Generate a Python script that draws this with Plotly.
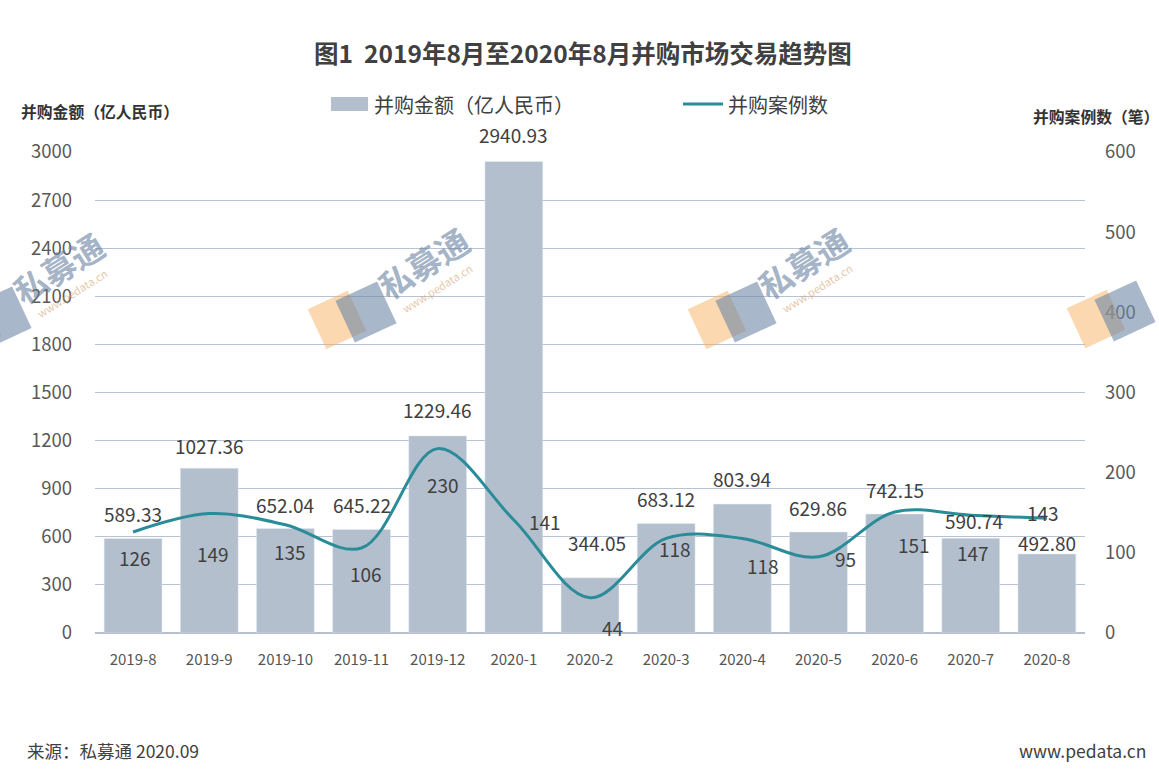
import math
import plotly.graph_objects as go

months = ["2019-8", "2019-9", "2019-10", "2019-11", "2019-12", "2020-1", "2020-2",
          "2020-3", "2020-4", "2020-5", "2020-6", "2020-7", "2020-8"]
amount = [589.33, 1027.36, 652.04, 645.22, 1229.46, 2940.93, 344.05,
          683.12, 803.94, 629.86, 742.15, 590.74, 492.80]
cases = [126, 149, 135, 106, 230, 141, 44, 118, 118, 95, 151, 147, 143]

# label placement (pixel offsets from the mark, as in the reference)
amount_label_dx = [0, 0, 0, 0, 0, 0, 7, 0, 0, 0, 0, 3, 0]
amount_label_dy = [25, 23, 24, 25, 26, 27, 35, 25, 26, 25, 25, 18, 11]
case_label_dx = [2, 4, 5, 4, 5, 31, 22, 9, 21, 27, 19, 2, -4]
case_label_dy = [-26, -40, -27, -25, -36, -2, -30, -10, -27, -2, -33, -37, 6]

FONT = "Noto Sans CJK SC"
BAR_C = "#b3bfcd"
LINE_C = "#2a8c98"
TXT = "#404040"

W, H = 1159, 779
L, R, T, B = 95, 74, 152, 146
pw, ph = W - L - R, H - T - B


def px(xp):
    return (xp - L) / pw


def py(yp):
    return (H - B - yp) / ph


fig = go.Figure()
fig.add_trace(go.Bar(
    x=months, y=amount, name="并购金额（亿人民币）", marker_color=BAR_C,
    yaxis="y", showlegend=False, hoverinfo="x+y",
))
fig.add_trace(go.Scatter(
    x=months, y=cases, name="并购案例数", mode="lines",
    line=dict(color=LINE_C, width=3, shape="spline", smoothing=1.0),
    yaxis="y2", showlegend=False,
))

annotations = []
for m, v, dx, dy in zip(months, amount, amount_label_dx, amount_label_dy):
    annotations.append(dict(x=m, y=v, xref="x", yref="y", text=f"{v:.2f}", showarrow=False,
                            xshift=dx, yshift=dy, xanchor="center", yanchor="middle",
                            font=dict(size=19, color=TXT, family=FONT)))
for m, v, dx, dy in zip(months, cases, case_label_dx, case_label_dy):
    annotations.append(dict(x=m, y=v, xref="x", yref="y2", text=str(v), showarrow=False,
                            xshift=dx, yshift=dy, xanchor="center", yanchor="middle",
                            font=dict(size=19, color=TXT, family=FONT)))

annotations += [
    dict(text="<b>图1  2019年8月至2020年8月并购市场交易趋势图</b>", x=px(583), y=py(53), xref="paper", yref="paper",
         showarrow=False, font=dict(size=24.5, color=TXT, family=FONT), xanchor="center", yanchor="middle"),
    dict(text="<b>并购金额（亿人民币）</b>", x=px(19), y=py(111), xref="paper", yref="paper",
         showarrow=False, font=dict(size=15.8, color="#333333", family=FONT), xanchor="left", yanchor="middle"),
    dict(text="<b>并购案例数（笔）</b>", x=px(1161), y=py(116), xref="paper", yref="paper",
         showarrow=False, font=dict(size=15.8, color="#333333", family=FONT), xanchor="right", yanchor="middle"),
    dict(text="并购金额（亿人民币）", x=px(372), y=py(104), xref="paper", yref="paper",
         showarrow=False, font=dict(size=20, color=TXT, family=FONT), xanchor="left", yanchor="middle"),
    dict(text="并购案例数", x=px(726), y=py(104), xref="paper", yref="paper",
         showarrow=False, font=dict(size=20, color=TXT, family=FONT), xanchor="left", yanchor="middle"),
    dict(text="来源：私募通 2020.09", x=px(25), y=py(750), xref="paper", yref="paper",
         showarrow=False, font=dict(size=17.5, color=TXT, family=FONT), xanchor="left", yanchor="middle"),
    dict(text="www.pedata.cn", x=px(1148), y=py(750), xref="paper", yref="paper",
         showarrow=False, font=dict(size=17.5, color=TXT, family=FONT), xanchor="right", yanchor="middle"),
]

shapes = [
    dict(type="rect", xref="paper", yref="paper", x0=px(331), x1=px(368), y0=py(97), y1=py(111),
         fillcolor=BAR_C, line=dict(width=0)),
    dict(type="line", xref="paper", yref="paper", x0=px(683), x1=px(723), y0=py(104), y1=py(104),
         line=dict(color=LINE_C, width=3)),
]


def rot_square(cx, cy, side, ang_deg):
    a = math.radians(ang_deg)
    h = side / 2
    pts = []
    for (ux, uy) in [(-h, -h), (h, -h), (h, h), (-h, h)]:
        rx = cx + ux * math.cos(a) - uy * math.sin(a)
        ry = cy + ux * math.sin(a) + uy * math.cos(a)
        pts.append((px(rx), py(ry)))
    return "M " + " L ".join(f"{x:.5f},{y:.5f}" for x, y in pts) + " Z"


# watermarks (semi-transparent, drawn above the plot)
marks = [(58, 268, True), (423, 263, True), (803, 263, True), (1182, 262, False)]
for (tx, ty, with_text) in marks:
    shapes.append(dict(type="path", xref="paper", yref="paper", path=rot_square(tx - 86, ty + 57, 44, -25),
                       fillcolor="rgba(247,178,95,0.5)", line=dict(width=0), layer="above"))
    shapes.append(dict(type="path", xref="paper", yref="paper", path=rot_square(tx - 57, ty + 49, 46, -25),
                       fillcolor="rgba(110,135,165,0.6)", line=dict(width=0), layer="above"))
    if with_text:
        annotations.append(dict(text="<b>私募通</b>", x=px(tx), y=py(ty), xref="paper", yref="paper",
                                showarrow=False, textangle=-32, xanchor="center", yanchor="middle",
                                font=dict(size=33, color="rgba(105,130,160,0.62)", family=FONT)))
        annotations.append(dict(text="www.pedata.cn", x=px(tx + 14), y=py(ty + 25), xref="paper", yref="paper",
                                showarrow=False, textangle=-32, xanchor="center", yanchor="middle",
                                font=dict(size=11, color="rgba(210,160,110,0.6)", family=FONT)))

fig.update_layout(
    width=W, height=H,
    margin=dict(l=L, r=R, t=T, b=B, pad=0),
    paper_bgcolor="white", plot_bgcolor="white",
    font=dict(family=FONT, color=TXT),
    bargap=0.24,
    annotations=annotations, shapes=shapes,
    xaxis=dict(type="category", showgrid=False, ticks="", tickfont=dict(size=15, color="#555555"),
               showline=True, linecolor="#b4c0cf", linewidth=1, ticklabelstandoff=13),
    yaxis=dict(range=[0, 3000], dtick=300, showgrid=True, gridcolor="#b8c3d1", gridwidth=1,
               zeroline=True, zerolinecolor="#b4c0cf", tickfont=dict(size=18.5, color="#595959"),
               ticklabelstandoff=22),
    yaxis2=dict(range=[0, 600], dtick=100, overlaying="y", side="right", showgrid=False,
                zeroline=False, tickfont=dict(size=18.5, color="#595959"), ticklabelstandoff=19),
)

fig.write_html("out.html")
